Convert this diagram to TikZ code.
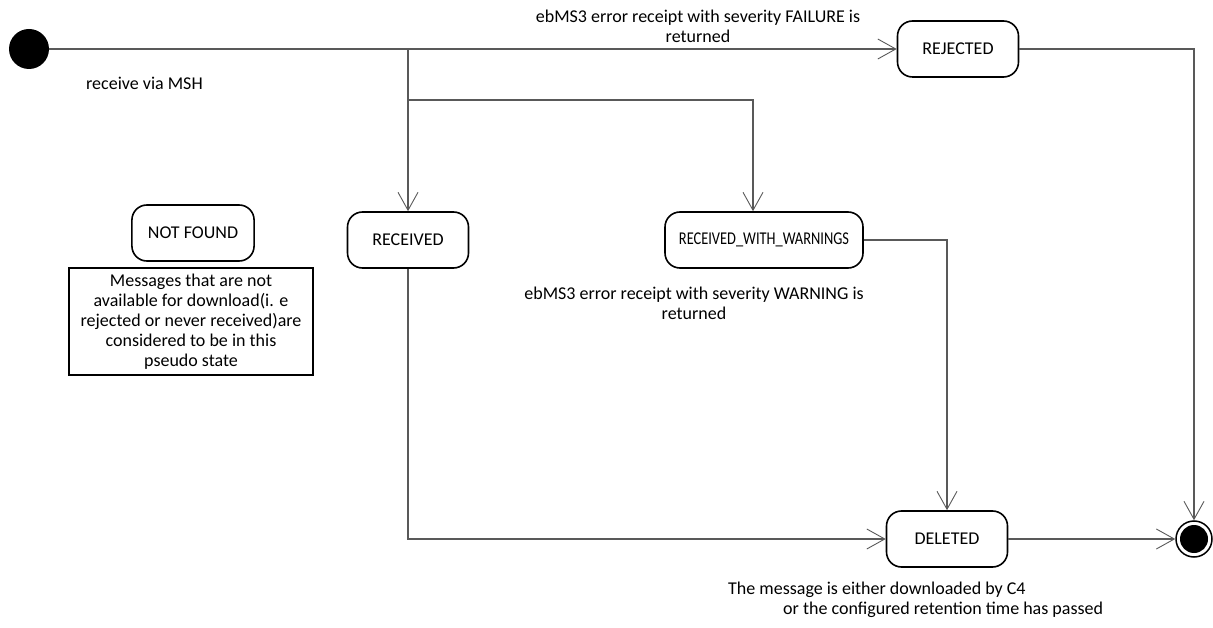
\documentclass[tikz,border=0pt]{standalone}
\usepackage{fontspec}
\usepackage{graphicx}
\setmainfont{Carlito}
\usetikzlibrary{arrows.meta}
\begin{document}
\begin{tikzpicture}[x=1pt,y=-1pt,
  font=\fontsize{18}{20}\selectfont,
  conn/.style={draw=black!65,line width=1.2pt},
  arr/.style={conn,-{Straight Barb[length=18pt,width=20pt,line width=0.9pt]}},
  state/.style={draw=black,line width=1.6pt,rounded corners=15pt,minimum width=121pt,minimum height=56pt,inner xsep=16pt,fill=white},
  lbl/.style={align=center,inner sep=0pt},
  notebox/.style={draw=black,line width=1.3pt,minimum width=244pt,minimum height=107pt,align=center,inner sep=0pt}]
\useasboundingbox (0,0) rectangle (1213,628);
% states
\node[circle,fill=black,minimum size=40pt,inner sep=0pt] (init) at (29,49) {};
\node[state] (rejected) at (958,49) {REJECTED};
\node[state] (received) at (408,240) {RECEIVED};
\node[state,minimum width=198pt,inner xsep=8pt] (rww) at (764,240) {\scalebox{0.8}[1]{RECEIVED\_WITH\_WARNINGS}};
\node[state] (notfound) at (193,233) {NOT FOUND};
\node[state] (deleted) at (947,539) {DELETED};
\node[circle,draw=black,line width=1.5pt,fill=white,minimum size=36pt,inner sep=0pt] (final) at (1194,539) {};
\fill[black] (final.center) circle (14pt);
% note
\node[notebox] (note) at (191,321.5) {Messages that are not\\available for download(i. e\\rejected or never received)are\\considered to be in this\\pseudo state};
% junctions
\coordinate (j1) at (408,49);
\coordinate (j2) at (408,100);
\coordinate (c1) at (753,100);
% connectors
\draw[arr] (init) -- (rejected);
\draw[arr] (j1) -- (received);
\draw[arr] (j2) -- (c1) -- (c1 |- rww.north);
\draw[arr] (rejected) -| (final);
\draw[arr] (received) |- (deleted);
\draw[arr] (rww) -| (deleted);
\draw[arr] (deleted) -- (final);
% labels
\node[lbl] (lfail) at (698,26) {ebMS3 error receipt with severity FAILURE is\\returned};
\node[lbl,anchor=west] (lmsh) at (86,83) {receive via MSH};
\node[lbl] (lwarn) at (694,303) {ebMS3 error receipt with severity WARNING is\\returned};
\node[lbl,align=left,anchor=north west] (ldel) at (728,582) {The message is either downloaded by C4\\\hspace*{55pt}or the configured retention time has passed};
\end{tikzpicture}
\end{document}
